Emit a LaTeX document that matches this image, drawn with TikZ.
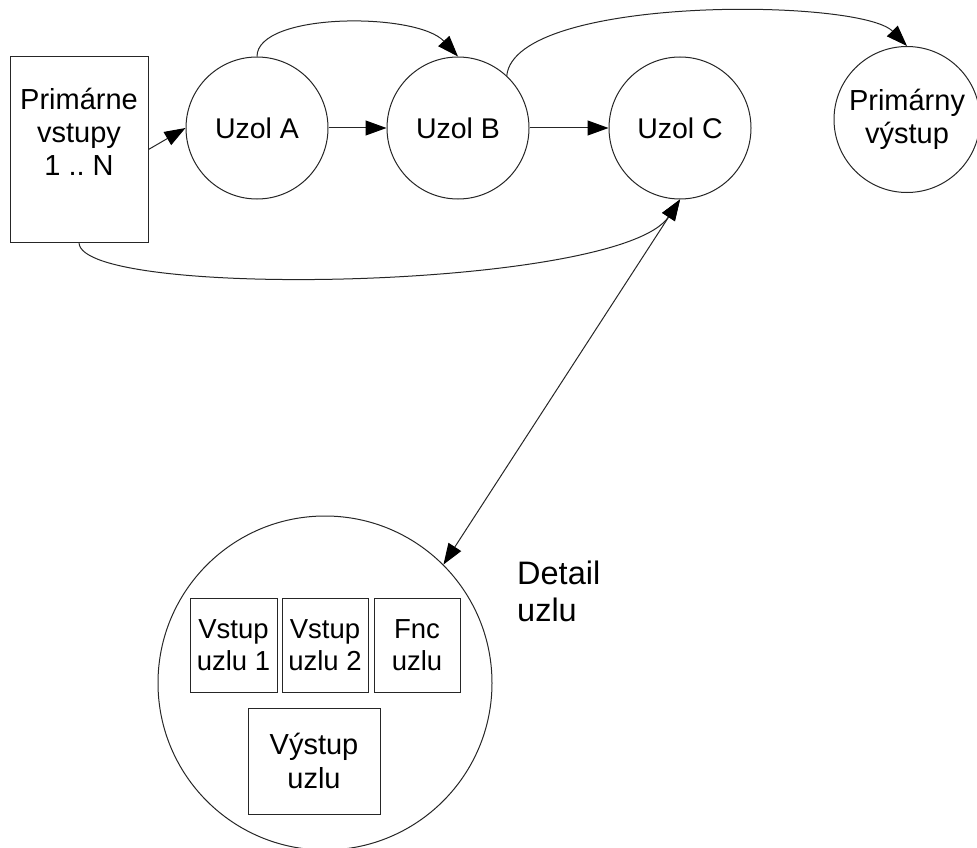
\documentclass[tikz,border=0pt]{standalone}
\usepackage{fontspec}
\setmainfont{Liberation Sans}
\usetikzlibrary{arrows.meta}
\frenchspacing
\begin{document}
\begin{tikzpicture}[x=1pt,y=-1pt,
  ln/.style={line width=1pt, draw=black!85},
  nd/.style={ln, circle, minimum size=142pt, inner sep=0pt, align=center, font=\fontsize{29}{33}\selectfont},
  bx/.style={ln, rectangle, inner sep=0pt, align=center, font=\fontsize{27.5}{32}\selectfont},
  txt/.style={inner sep=0pt, align=center, font=\fontsize{29}{33}\selectfont},
  tip/.style={Triangle[length=21pt,width=15pt]},
  arr/.style={ln, -{Triangle[length=21pt,width=15pt,fill=black,color=black]}},
  darr/.style={ln, {Triangle[length=21pt,width=15pt,fill=black,color=black]}-{Triangle[length=21pt,width=15pt,fill=black,color=black]}}]
\useasboundingbox (0,0) rectangle (977,848);
% top row
\node[ln, rectangle, minimum width=138pt, minimum height=185pt, inner sep=0pt] (in) at (79,149.5) {};
\node[txt] (inlbl) at (79,132) {Primárne\\vstupy\\1 .. N};
\node[nd, font=\fontsize{28.5}{33}\selectfont] (A) at (257,128) {Uzol A};
\node[nd, font=\fontsize{28.5}{33}\selectfont] (B) at (458,128) {Uzol B};
\node[nd, font=\fontsize{28.5}{33}\selectfont] (C) at (680,128) {Uzol C};
\node[nd, minimum size=146pt] (out) at (907,119.5) {Primárny\\výstup};
% detail
\node[ln, circle, minimum size=334pt, inner sep=0pt] (det) at (325,683) {};
\node[bx, minimum width=87pt, minimum height=94pt] (v1) at (233.5,645) {Vstup\\uzlu 1};
\node[bx, minimum width=86pt, minimum height=94pt] (v2) at (325,645) {Vstup\\uzlu 2};
\node[bx, minimum width=86pt, minimum height=94pt] (fnc) at (417,645) {Fnc\\uzlu};
\node[bx, minimum width=132pt, minimum height=106pt, font=\fontsize{29}{34}\selectfont] (vy) at (314,761) {Výstup\\uzlu};
\node[inner sep=0pt, align=left, anchor=north west, font=\fontsize{32.5}{37}\selectfont] (dlbl) at (517,561) {Detail\\uzlu};
% connectors
\draw[arr] (in.east) -- (A.west);
\draw[arr] (A) -- (B);
\draw[arr] (B) -- (C);
\draw[arr] (A.north) .. controls (257,12) and (417,12) .. (B.north);
\draw[arr] (B.47) .. controls (515,-5) and (860,-2) .. (out.north);
\draw[arr] (in.south) .. controls (79,300) and (620,290) .. (C.south);
\draw[darr] (C.south) -- (det.45);
\end{tikzpicture}
\end{document}
